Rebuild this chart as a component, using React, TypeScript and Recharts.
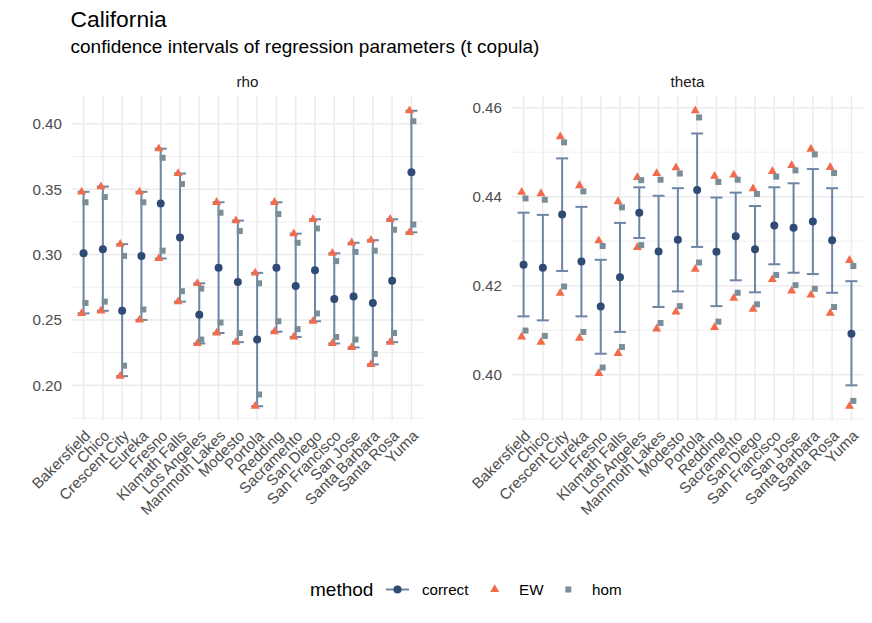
import React from "react";
import { ComposedChart, Scatter, XAxis, YAxis, CartesianGrid, ErrorBar } from "recharts";

const cities = [
  "Bakersfield", "Chico", "Crescent City", "Eureka", "Fresno", "Klamath Falls",
  "Los Angeles", "Mammoth Lakes", "Modesto", "Portola", "Redding", "Sacramento",
  "San Diego", "San Francisco", "San Jose", "Santa Barbara", "Santa Rosa", "Yuma",
];

// rho panel
const rhoCorrect = [0.301, 0.304, 0.257, 0.299, 0.339, 0.313, 0.254, 0.290, 0.279, 0.235, 0.290, 0.276, 0.288, 0.266, 0.268, 0.263, 0.280, 0.363];
const rhoCorrectLo = [0.255, 0.257, 0.207, 0.250, 0.297, 0.264, 0.232, 0.240, 0.233, 0.184, 0.241, 0.237, 0.249, 0.232, 0.229, 0.216, 0.233, 0.317];
const rhoCorrectHi = [0.348, 0.352, 0.308, 0.348, 0.381, 0.362, 0.278, 0.340, 0.326, 0.286, 0.340, 0.316, 0.327, 0.301, 0.309, 0.311, 0.327, 0.410];
const rhoEWLo = [0.255, 0.257, 0.207, 0.250, 0.297, 0.264, 0.232, 0.240, 0.233, 0.184, 0.241, 0.237, 0.249, 0.232, 0.229, 0.216, 0.233, 0.317];
const rhoEWHi = [0.348, 0.352, 0.308, 0.348, 0.381, 0.362, 0.278, 0.340, 0.326, 0.286, 0.340, 0.316, 0.327, 0.301, 0.309, 0.311, 0.327, 0.410];
const rhoHomLo = [0.263, 0.264, 0.215, 0.258, 0.303, 0.272, 0.235, 0.248, 0.240, 0.193, 0.249, 0.243, 0.255, 0.237, 0.235, 0.224, 0.240, 0.323];
const rhoHomHi = [0.340, 0.344, 0.299, 0.340, 0.374, 0.354, 0.274, 0.332, 0.318, 0.278, 0.331, 0.309, 0.320, 0.295, 0.302, 0.303, 0.319, 0.402];
const rhoTicks = [0.2, 0.25, 0.3, 0.35, 0.4];
const rhoMinor = [0.175, 0.225, 0.275, 0.325, 0.375];

// theta panel
const thetaCorrect = [0.4247, 0.4240, 0.4360, 0.4254, 0.4153, 0.4219, 0.4364, 0.4277, 0.4303, 0.4415, 0.4276, 0.4311, 0.4282, 0.4335, 0.4330, 0.4344, 0.4302, 0.4092];
const thetaCorrectLo = [0.4131, 0.4122, 0.4233, 0.4131, 0.4047, 0.4096, 0.4307, 0.4152, 0.4187, 0.4287, 0.4154, 0.4212, 0.4185, 0.4248, 0.4229, 0.4226, 0.4184, 0.3976];
const thetaCorrectHi = [0.4364, 0.4359, 0.4486, 0.4377, 0.4258, 0.4341, 0.4421, 0.4402, 0.4419, 0.4542, 0.4398, 0.4409, 0.4379, 0.4421, 0.4430, 0.4462, 0.4419, 0.4210];
const thetaEWLo = [0.4085, 0.4073, 0.4183, 0.4082, 0.4003, 0.4048, 0.4286, 0.4103, 0.4141, 0.4237, 0.4106, 0.4172, 0.4147, 0.4214, 0.4188, 0.4179, 0.4138, 0.3929];
const thetaEWHi = [0.4410, 0.4407, 0.4535, 0.4425, 0.4301, 0.4389, 0.4443, 0.4452, 0.4465, 0.4593, 0.4446, 0.4449, 0.4418, 0.4457, 0.4470, 0.4507, 0.4466, 0.4257];
const thetaHomLo = [0.4099, 0.4087, 0.4198, 0.4096, 0.4016, 0.4062, 0.4291, 0.4116, 0.4154, 0.4252, 0.4119, 0.4184, 0.4158, 0.4224, 0.4201, 0.4193, 0.4152, 0.3941];
const thetaHomHi = [0.4396, 0.4393, 0.4522, 0.4412, 0.4289, 0.4376, 0.4437, 0.4438, 0.4452, 0.4578, 0.4433, 0.4438, 0.4406, 0.4445, 0.4459, 0.4495, 0.4453, 0.4244];
const thetaTicks = [0.4, 0.42, 0.44, 0.46];
const thetaMinor = [0.39, 0.41, 0.43, 0.45];

const xTicks = cities.map((_, i) => i);
const dodge = 0.1;

const NAVY = "#2F4B74";
const SLATE = "#6E86A5";
const ORANGE = "#F26B4B";
const GREY = "#7A8E99";
const GRID = "#EBEBEB";
const FONT = "'Liberation Sans', Arial, Helvetica, sans-serif";

// ggplot style 5% expansion
const expand = (vals: number[]) => {
  const lo = Math.min(...vals);
  const hi = Math.max(...vals);
  const pad = (hi - lo) * 0.05;
  return [lo - pad, hi + pad];
};

const Dot = (p: any) => <circle cx={p.cx} cy={p.cy} r={4} fill={NAVY} />;
const Tri = (p: any) => (
  <polygon
    points={`${p.cx},${p.cy - 5.2} ${p.cx + 4.5},${p.cy + 2.6} ${p.cx - 4.5},${p.cy + 2.6}`}
    fill={ORANGE}
  />
);
const Sq = (p: any) => <rect x={p.cx - 3} y={p.cy - 3} width={6} height={6} fill={GREY} />;

function CityTick(props: any) {
  const { x, y, payload } = props;
  return (
    <text
      x={x}
      y={y}
      dy="0.72em"
      textAnchor="end"
      transform={`rotate(-45 ${x} ${y})`}
      fill="#4D4D4D"
      fontSize={15.2}
    >
      {cities[payload.value]}
    </text>
  );
}

function Panel(props: any) {
  const { left, axisWidth, right, label, correct, lo, hi, ewLo, ewHi, homLo, homHi, ticks, minor } = props;
  const correctData = cities.map((_, i) => ({
    x: i,
    y: correct[i],
    err: [correct[i] - lo[i], hi[i] - correct[i]],
  }));
  const ewData = cities.flatMap((_, i) => [
    { x: i - dodge, y: ewLo[i] },
    { x: i - dodge, y: ewHi[i] },
  ]);
  const homData = cities.flatMap((_, i) => [
    { x: i + dodge, y: homLo[i] },
    { x: i + dodge, y: homHi[i] },
  ]);
  const domain = expand([...correct, ...lo, ...hi, ...ewLo, ...ewHi, ...homLo, ...homHi]);
  const plotLeft = axisWidth;
  const plotRight = 436 - right;

  return (
    <div style={{ position: "absolute", left, top: 0, width: 436, height: 560 }}>
      <ComposedChart width={436} height={560} margin={{ top: 96, right, bottom: 0, left: 0 }}>
        <CartesianGrid vertical={false} horizontalValues={minor} stroke={GRID} strokeWidth={0.8} />
        <CartesianGrid horizontalValues={ticks} verticalValues={xTicks} stroke={GRID} strokeWidth={1.5} />
        <XAxis
          type="number"
          dataKey="x"
          domain={[-0.6, cities.length - 0.4]}
          ticks={xTicks}
          interval={0}
          allowDataOverflow
          axisLine={false}
          tickLine={false}
          tickSize={0}
          tickMargin={8}
          height={139}
          tick={<CityTick />}
        />
        <YAxis
          type="number"
          dataKey="y"
          domain={domain}
          ticks={ticks}
          allowDataOverflow
          axisLine={false}
          tickLine={false}
          tickSize={0}
          tickMargin={10}
          width={axisWidth}
          tickFormatter={(v: number) => v.toFixed(2)}
          tick={{ fill: "#4D4D4D", fontSize: 15.2 }}
        />
        <Scatter name="correct" data={correctData} shape={Dot} isAnimationActive={false}>
          <ErrorBar dataKey="err" direction="y" width={6} stroke={SLATE} strokeWidth={2} isAnimationActive={false} />
        </Scatter>
        <Scatter name="EW" data={ewData} shape={Tri} isAnimationActive={false} />
        <Scatter name="hom" data={homData} shape={Sq} isAnimationActive={false} />
      </ComposedChart>
      <svg width={436} height={100} style={{ position: "absolute", left: 0, top: 0 }}>
        <text x={(plotLeft + plotRight) / 2} y={87.3} textAnchor="middle" fontSize={15.2} fill="#1A1A1A">
          {label}
        </text>
      </svg>
    </div>
  );
}

export default function App() {
  return (
    <div
      style={{
        position: "absolute",
        left: 0,
        top: 0,
        width: 872,
        height: 623,
        background: "#fff",
        fontFamily: FONT,
      }}
    >
      <svg width={872} height={100} style={{ position: "absolute", left: 0, top: 0 }}>
        <text x={70.5} y={26.7} fontSize={22.8} fill="#000">California</text>
        <text x={70.5} y={53.3} fontSize={19} fill="#000">
          confidence intervals of regression parameters (t copula)
        </text>
      </svg>
      <Panel
        left={0}
        axisWidth={72}
        right={13}
        label="rho"
        correct={rhoCorrect}
        lo={rhoCorrectLo}
        hi={rhoCorrectHi}
        ewLo={rhoEWLo}
        ewHi={rhoEWHi}
        homLo={rhoHomLo}
        homHi={rhoHomHi}
        ticks={rhoTicks}
        minor={rhoMinor}
      />
      <Panel
        left={436}
        axisWidth={76}
        right={9}
        label="theta"
        correct={thetaCorrect}
        lo={thetaCorrectLo}
        hi={thetaCorrectHi}
        ewLo={thetaEWLo}
        ewHi={thetaEWHi}
        homLo={thetaHomLo}
        homHi={thetaHomHi}
        ticks={thetaTicks}
        minor={thetaMinor}
      />
      <svg width={872} height={60} style={{ position: "absolute", left: 0, top: 560 }}>
        <text x={310} y={36} fontSize={19} fill="#000">method</text>
        <line x1={386} x2={409} y1={29.5} y2={29.5} stroke={SLATE} strokeWidth={2} />
        <circle cx={397.5} cy={29.5} r={4} fill={NAVY} />
        <text x={422} y={35} fontSize={15.2} fill="#000">correct</text>
        <polygon points="494.7,24.3 499.2,32.1 490.2,32.1" fill={ORANGE} />
        <text x={519} y={35} fontSize={15.2} fill="#000">EW</text>
        <rect x={565.3} y={26.5} width={6} height={6} fill={GREY} />
        <text x={592} y={35} fontSize={15.2} fill="#000">hom</text>
      </svg>
    </div>
  );
}
